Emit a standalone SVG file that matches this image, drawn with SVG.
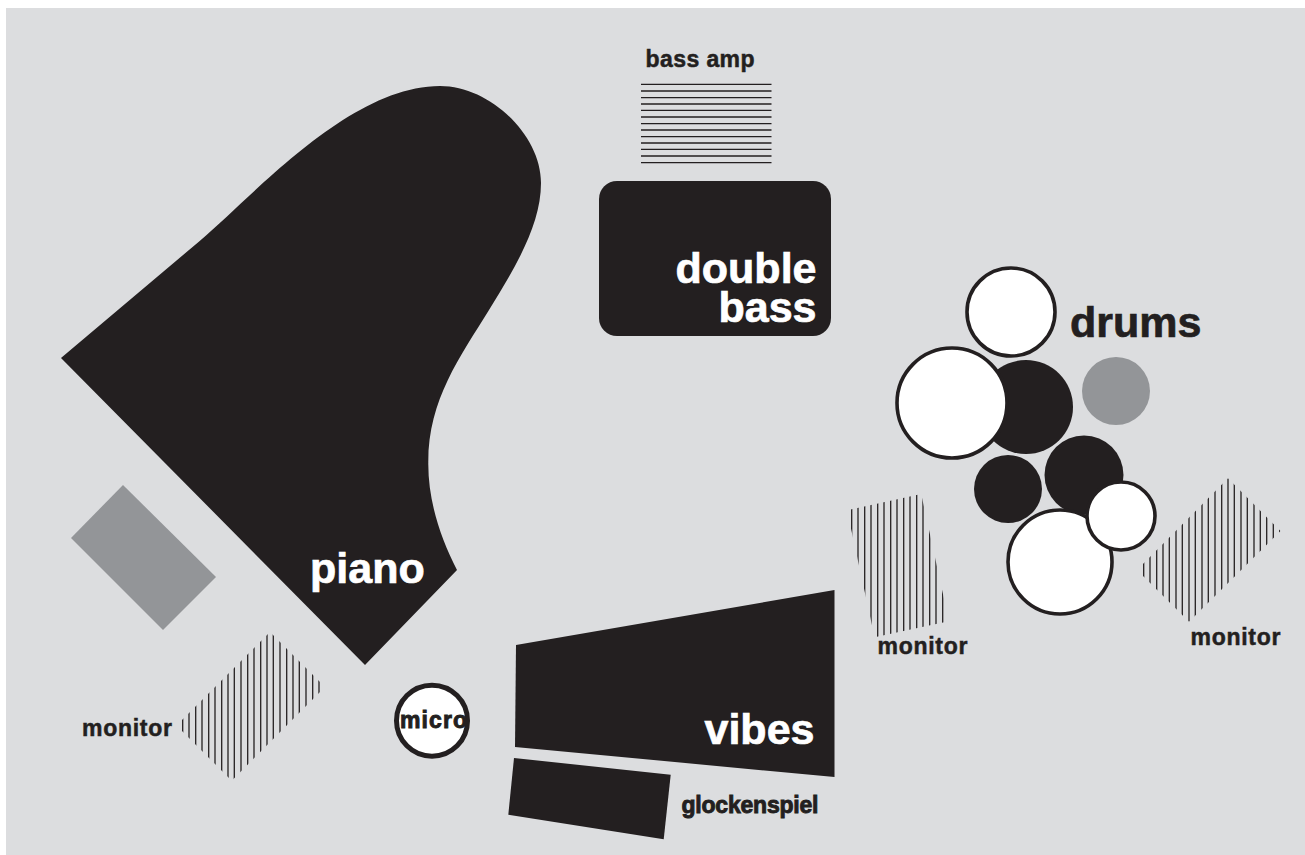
<svg xmlns="http://www.w3.org/2000/svg" width="1305" height="855" viewBox="0 0 1305 855">
<style>
text{font-family:"Liberation Sans",Arial,sans-serif;font-weight:700}
.k{fill:#231f20}
.w{fill:#fff}
.g{fill:#939598}
.o{fill:#fff;stroke:#231f20;stroke-width:3.600}
.s{fill:none;stroke:#231f20;stroke-width:1.300}
.big{font-size:43px;stroke-width:.7}
.sm{font-size:23px;stroke:#231f20;stroke-width:.5}
text.w{stroke:#fff}
text.k{stroke:#231f20}
</style>
<defs>
<clipPath id="cm1"><polygon points="176.500,725.500 270,632 325,687 231.700,780.700"/></clipPath>
<clipPath id="cm2"><polygon points="847,510.300 921.200,494 948.900,621.300 874.600,637.300"/></clipPath>
<clipPath id="cm3"><polygon points="1137,570 1228,478.300 1280.500,531 1189,621.700"/></clipPath>
</defs>
<rect x="6" y="8" width="1299" height="847" fill="#dcdddf"/>
<g id="piano">
<path class="k" d="M61 358L200 240.700C255 194 350 86 440 86C490 86 541 135 541 183C541 225 515 268 489 310C460 357 428 400 428.300 463C428 500 440 537 457 570L365 665Z"/>
<text class="w big" x="310" y="583">piano</text>
</g>
<g id="piano-bench"><polygon class="g" points="123,485 216,577 163,630 71,538"/></g>
<g id="bass-amp">
<path class="s" d="M641 84.300H771.500M641 91H771.500M641 97.700H771.500M641 104H771.500M641 110.300H771.500M641 117H771.500M641 123.700H771.500M641 130H771.500M641 136.700H771.500M641 143H771.500M641 149.300H771.500M641 156H771.500M641 162.700H771.500"/>
<text class="k sm" x="645.500" y="66.700" textLength="109">bass amp</text>
</g>
<g id="double-bass">
<rect class="k" x="599" y="181" width="232" height="155" rx="18"/>
<text class="w big" text-anchor="end"><tspan x="816.500" y="283">double</tspan><tspan x="816.500" y="322">bass</tspan></text>
</g>
<g id="drums">
<circle class="k" cx="1026" cy="407" r="47"/>
<circle class="g" cx="1116" cy="391" r="34"/>
<circle class="k" cx="1008" cy="489" r="34"/>
<circle class="k" cx="1084" cy="475" r="39.500"/>
<circle class="o" cx="1011" cy="312" r="44"/>
<circle class="o" cx="952" cy="403" r="55"/>
<circle class="o" cx="1060" cy="562" r="52"/>
<circle class="o" cx="1121" cy="516" r="34"/>
<text class="k big" x="1070" y="337">drums</text>
</g>
<g id="monitor-left">
<path class="s" clip-path="url(#cm1)" d="M182.700 620V790M189 620V790M195.700 620V790M202 620V790M208.700 620V790M215 620V790M221.700 620V790M228 620V790M234.300 620V790M241 620V790M247.700 620V790M254 620V790M260.700 620V790M267 620V790M273.300 620V790M280 620V790M286.700 620V790M293 620V790M299.300 620V790M306 620V790M312.700 620V790M319 620V790"/>
<text class="k sm" x="82" y="735.700" textLength="90">monitor</text>
</g>
<g id="monitor-centre">
<path class="s" clip-path="url(#cm2)" d="M851.700 480V650M858 480V650M864.700 480V650M871 480V650M877.700 480V650M884 480V650M890.700 480V650M897 480V650M903.700 480V650M910 480V650M916.700 480V650M923 480V650M929.700 480V650M936 480V650M942.700 480V650"/>
<text class="k sm" x="877.500" y="653.500" textLength="90">monitor</text>
</g>
<g id="monitor-right">
<path class="s" clip-path="url(#cm3)" d="M1143.700 470V630M1150 470V630M1156.700 470V630M1163 470V630M1169.300 470V630M1176 470V630M1182.300 470V630M1189 470V630M1195.300 470V630M1202 470V630M1208.300 470V630M1215 470V630M1221.700 470V630M1228 470V630M1234.300 470V630M1241 470V630M1247.300 470V630M1254 470V630M1260.300 470V630M1266.700 470V630M1273.300 470V630M1279.700 470V630"/>
<text class="k sm" x="1190.500" y="644.500" textLength="90">monitor</text>
</g>
<g id="micro">
<circle cx="432" cy="720.700" r="35.500" fill="#fff" stroke="#231f20" stroke-width="5"/>
<text class="k sm" x="400" y="727.500" textLength="67" style="stroke-width:.9">micro</text>
</g>
<g id="vibes">
<polygon class="k" points="516,645 834.500,590 834.500,777 515,747"/>
<text class="w big" x="704.500" y="744">vibes</text>
</g>
<g id="glockenspiel">
<polygon class="k" points="514,758 670.700,774.700 663.700,839.300 508.300,814.700"/>
<text class="k sm" x="681.500" y="813" textLength="137" style="stroke-width:.9">glockenspiel</text>
</g>
</svg>
